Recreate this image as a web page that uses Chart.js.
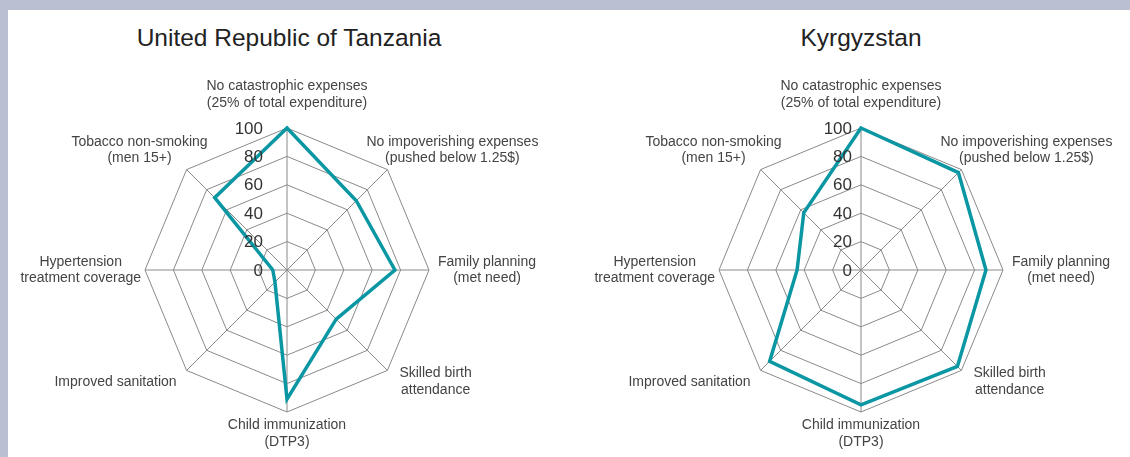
<!DOCTYPE html>
<html>
<head>
<meta charset="utf-8">
<title>UHC radar</title>
<script src="https://cdn.jsdelivr.net/npm/chart.js@4.4.0/dist/chart.umd.min.js"></script>
<style>
  html, body { margin: 0; padding: 0; }
  body {
    width: 1130px; height: 457px; position: relative; overflow: hidden;
    background: #b9c0d2;
    font-family: "Liberation Sans", Arial, sans-serif;
  }
  #panel { position: absolute; left: 8px; top: 10px; right: 0; bottom: 0; background: #fff; }
  .title {
    position: absolute; top: 24px; width: 400px; text-align: center;
    font-size: 24.5px; line-height: 28px; color: #222;
  }
  canvas { position: absolute; top: 0; }
</style>
</head>
<body>
<div id="panel"></div>
<div class="title" style="left:89px">United Republic of Tanzania</div>
<div class="title" style="left:661px">Kyrgyzstan</div>
<canvas id="graph1" width="574" height="457" style="left:0"></canvas>
<canvas id="graph2" width="556" height="457" style="left:574px"></canvas>

<script>
// Оси (подписи по строкам)
const axisLabels = [
  ['No catastrophic expenses', '(25% of total expenditure)'],
  ['No impoverishing expenses', '(pushed below 1.25$)'],
  ['Family planning', '(met need)'],
  ['Skilled birth', 'attendance'],
  ['Child immunization', '(DTP3)'],
  ['Improved sanitation'],
  ['Hypertension', 'treatment coverage'],
  ['Tobacco non-smoking', '(men 15+)']
];

// Значения
const tanzaniaData = [100, 69, 76, 49, 91, 12, 10, 72];
const kyrgyzstanData = [100, 97, 88, 96, 95, 91, 45, 57];

const tickValues = [0, 20, 40, 60, 80, 100];

const LINE_COLOR = '#0a97a3';
const GRID_COLOR = '#8a8a8a';
const TEXT_COLOR = '#444';

// смещение блока подписи относительно вершины: [dx, dy, привязка]
// привязка: 'c' — по центру, 'l' — левый край, 'r' — правый край
const labelOffsets = [
  [0, -17, 'c', 'bottom'],
  [-21, -19.6, 'l', 'middle'],
  [9, 0, 'l', 'middle'],
  [12, 11.3, 'l', 'middle'],
  [0, 5, 'c', 'top'],
  [-10, 11.3, 'r', 'middle'],
  [-4, 0, 'r', 'middle'],
  [21, -19.6, 'r', 'middle']
];

const textPlugin = {
  id: 'radarText',
  afterDatasetsDraw(chart, args, opts) {
    const scale = chart.scales.r;
    const ctx = chart.ctx;
    ctx.save();

    // подписи осей
    ctx.font = '14px "Liberation Sans", Arial, sans-serif';
    ctx.fillStyle = TEXT_COLOR;
    ctx.textAlign = 'center';
    ctx.textBaseline = 'middle';
    const lh = 16.5;
    chart.data.labels.forEach((lines, i) => {
      const p = scale.getPointPosition(i, scale.drawingArea);
      const w = Math.max(...lines.map(s => ctx.measureText(s).width));
      const h = lines.length * lh;
      const [dx, dy, anchor, vert] = labelOffsets[i];
      let cx = p.x + dx;
      if (anchor === 'l') cx += w / 2;
      if (anchor === 'r') cx -= w / 2;
      let cy = p.y + dy;
      if (vert === 'bottom') cy -= h / 2;
      if (vert === 'top') cy += h / 2;
      lines.forEach((s, k) => {
        ctx.fillText(s, cx, cy - h / 2 + lh * (k + 0.5));
      });
    });

    // подписи шкалы
    ctx.font = '17px "Liberation Sans", Arial, sans-serif';
    ctx.fillStyle = '#333';
    ctx.textAlign = 'right';
    tickValues.forEach(v => {
      const y = scale.yCenter - scale.getDistanceFromCenterForValue(v);
      ctx.fillText(String(v), scale.xCenter - opts.tickGap, y + 1);
    });
    ctx.restore();
  }
};

function createRadar(canvas, data, padding, tickGap) {
  return new Chart(canvas, {
    type: 'radar',
    data: {
      labels: axisLabels,
      datasets: [{
        data: data,
        borderColor: LINE_COLOR,
        borderWidth: 3.5,
        fill: false,
        pointRadius: 0,
        pointHoverRadius: 0,
        tension: 0
      }]
    },
    options: {
      responsive: false,
      animation: false,
      layout: { padding: padding },
      plugins: {
        legend: { display: false },
        title: { display: false },
        tooltip: { enabled: false },
        radarText: { tickGap: tickGap }
      },
      scales: {
        r: {
          min: 0,
          max: 100,
          ticks: { stepSize: 20, display: false },
          grid: { color: GRID_COLOR, lineWidth: 1 },
          angleLines: { color: GRID_COLOR, lineWidth: 1 },
          pointLabels: { display: false }
        }
      }
    },
    plugins: [textPlugin]
  });
}

createRadar(document.getElementById('graph1'), tanzaniaData,
  { left: 145, right: 145, top: 128, bottom: 45 }, 24);
createRadar(document.getElementById('graph2'), kyrgyzstanData,
  { left: 145, right: 127, top: 128, bottom: 45 }, 9);
</script>
</body>
</html>
